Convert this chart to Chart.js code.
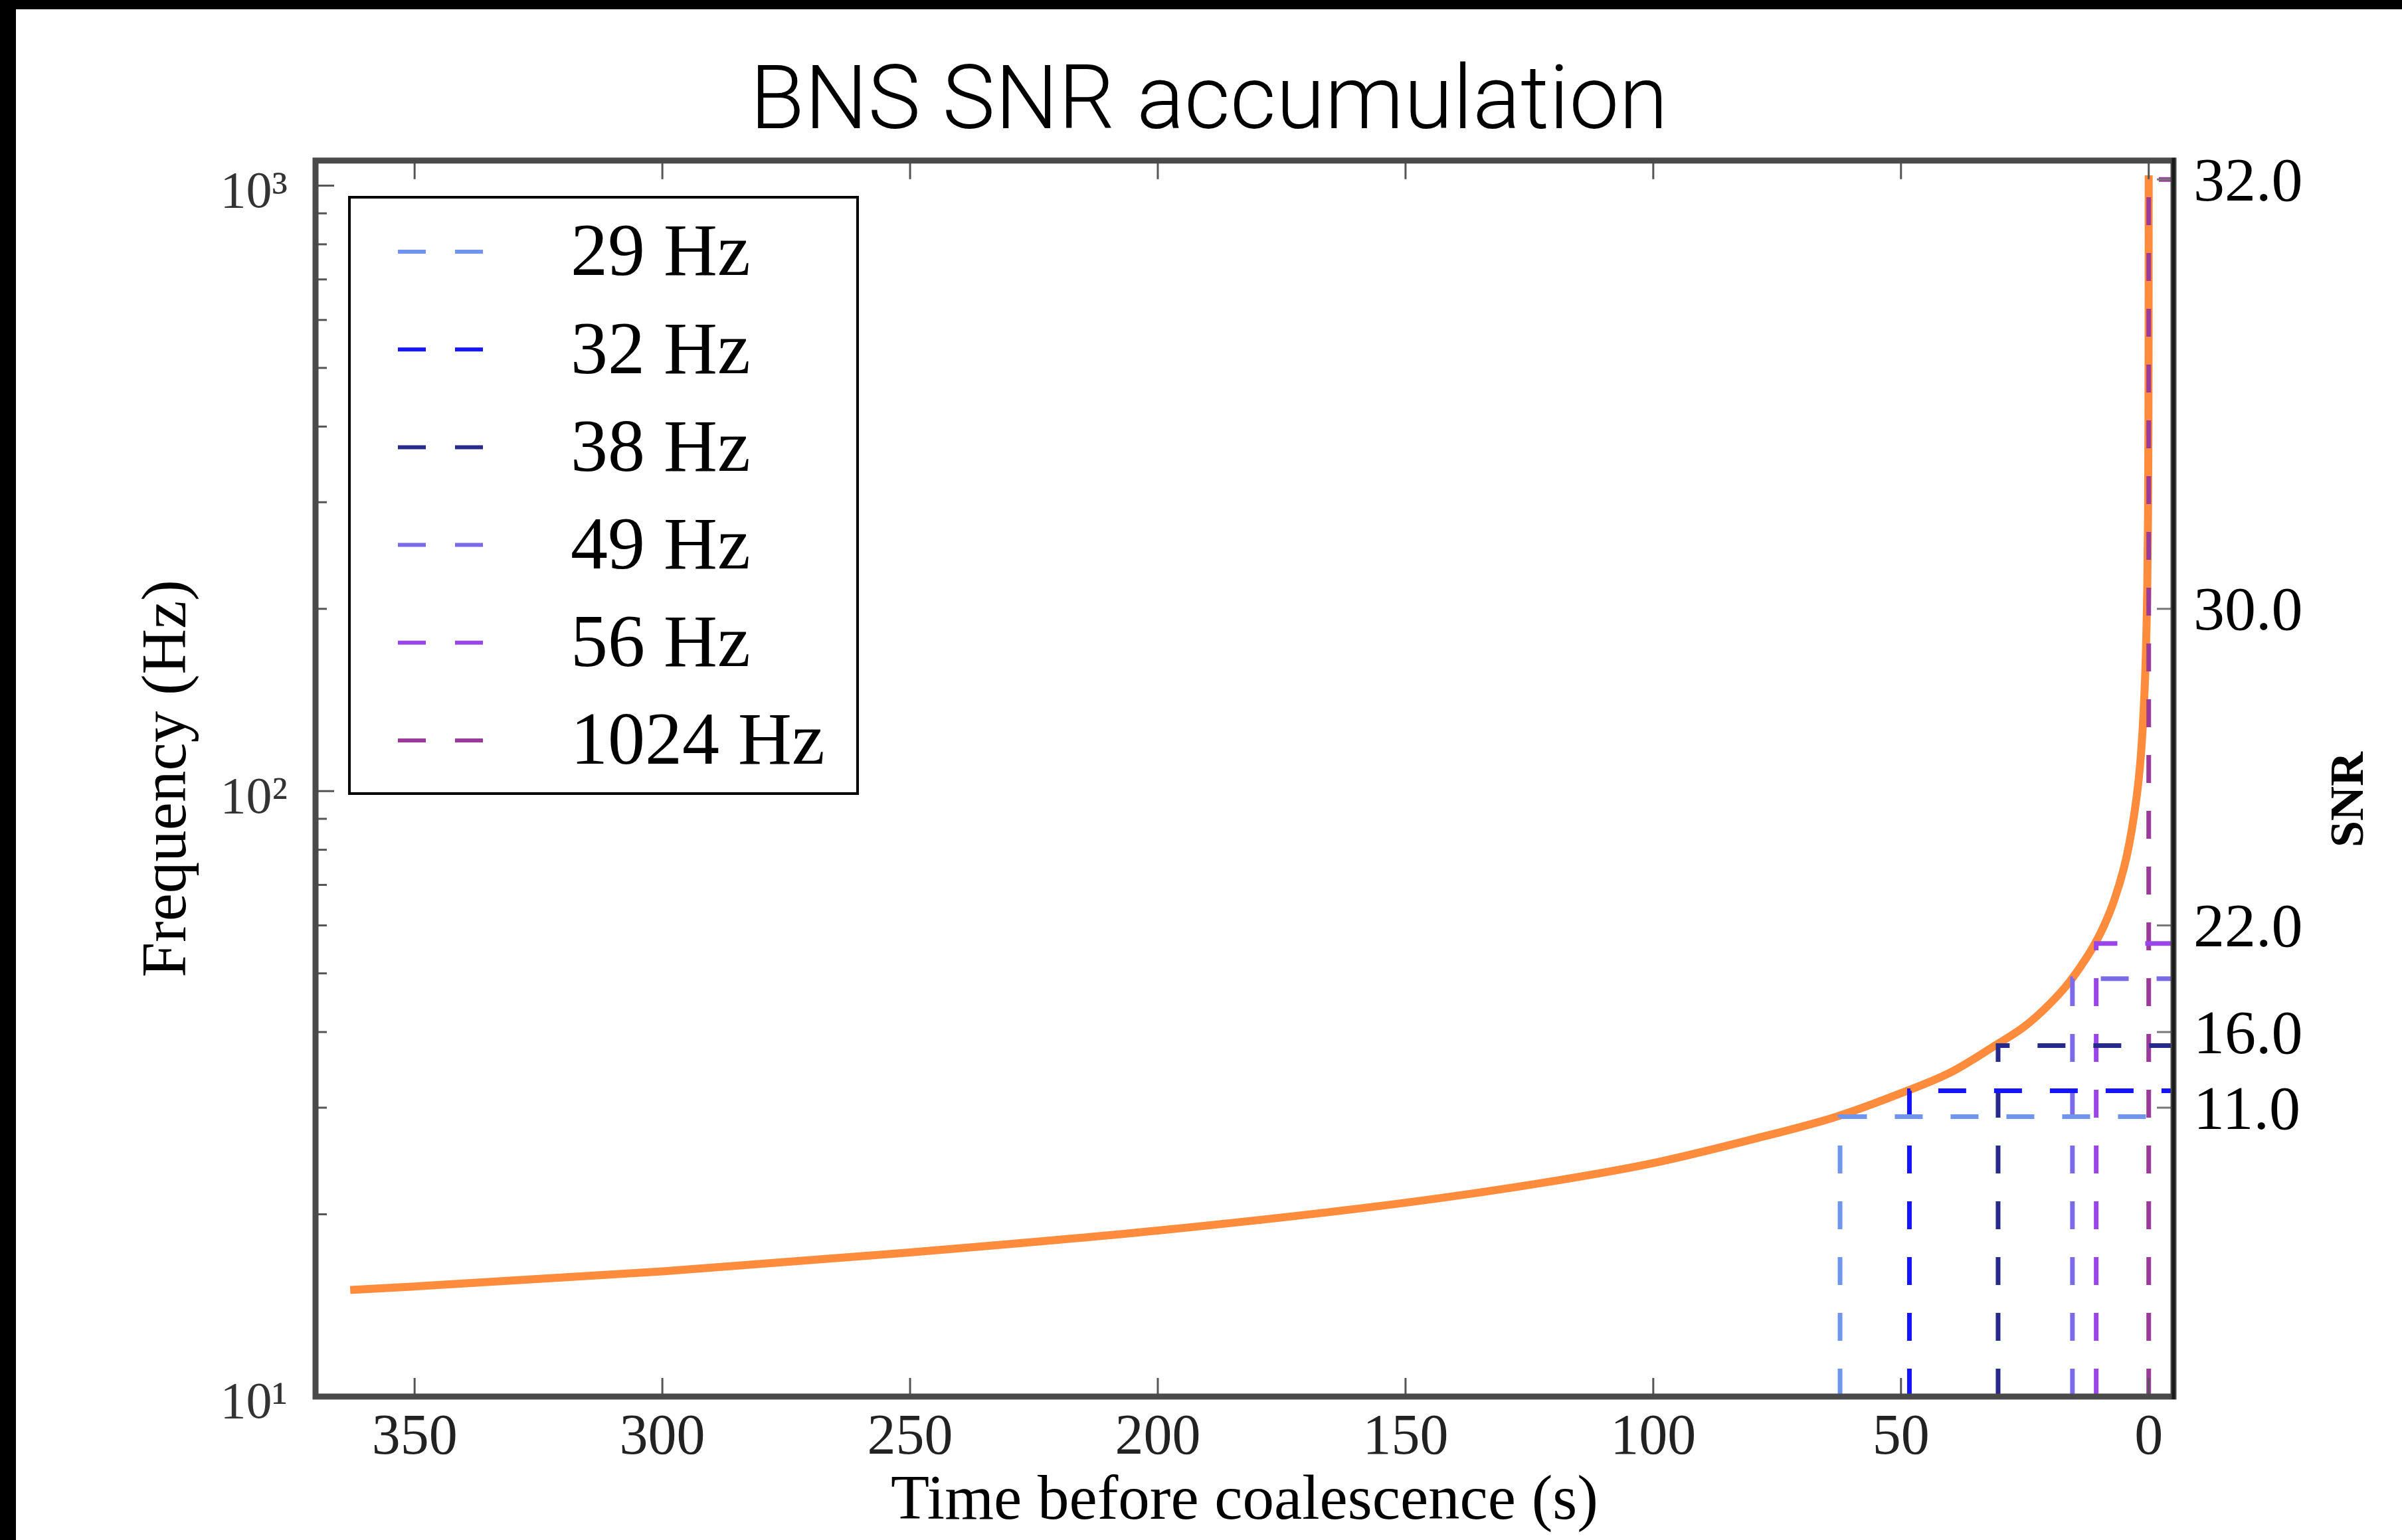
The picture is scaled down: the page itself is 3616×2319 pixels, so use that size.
<!DOCTYPE html>
<html>
<head>
<meta charset="utf-8">
<title>BNS SNR accumulation</title>
<script src="https://cdn.jsdelivr.net/npm/chart.js@4.4.1/dist/chart.umd.min.js"></script>
<style>
  html, body { margin: 0; padding: 0; background: #000; }
  body { width: 3616px; height: 2319px; position: relative; overflow: hidden; }
  #snrChart { position: absolute; left: 24px; top: 14px; background: #fff; }
</style>
</head>
<body>
<canvas id="snrChart" width="3592" height="2305"></canvas>
<script>
// Chirp track: time before merger (s) against GW frequency (Hz)
const chirpTime = [363, 350, 300, 250, 200, 150, 120, 100, 80, 63, 50, 40, 31, 25, 20, 16, 13, 11, 9, 7,
                   5, 4, 3, 2, 1.5, 1, 0.6, 0.3, 0.15, 0.06, 0.02, 0.008, 0.004];
const chirpFreq = [15.0, 15.2, 16.1, 17.3, 18.8, 20.9, 22.7, 24.3, 26.6, 29.0, 31.7, 34.3, 38.0, 40.9, 44.5, 48.4, 52.4, 55.7, 60.0, 65.9,
                   74.7, 81.3, 90.7, 105, 117, 137, 166, 215, 279, 391, 591, 834, 1040];

// Cut-off frequencies and the time the chirp reaches each of them
const cutFreqs = [29, 32, 38, 49, 56, 1024];
const cutTimes = [62.3, 48.3, 30.4, 15.4, 10.6, 0.0];
const cutColors = ['#6f96ec', '#1414ff', '#262a8c', '#7b6be8', '#9a45ea', '#9a3a9a'];

// SNR accumulated by each marked frequency (right-hand axis)
const snrTickFreqs = [30, 40, 60, 200, 1024];
const snrValues = [11.0, 16.0, 22.0, 30.0, 32.0];

const timeTicks = [350, 300, 250, 200, 150, 100, 50, 0];
const freqTicks = [10, 100, 1000];
const T_MIN = -5, T_MAX = 370;
const F_MIN = 10, F_MAX = 1100;

const SUP = { 1: '\u00b9', 2: '\u00b2', 3: '\u00b3' };

Chart.defaults.font.family = "'Liberation Serif', serif";
Chart.defaults.color = '#111';

const datasets = [{
  label: 'chirp',
  data: chirpTime.map((t, i) => ({ x: t, y: chirpFreq[i] })),
  borderColor: '#ff8b3d',
  borderWidth: 12,
  pointRadius: 0,
  cubicInterpolationMode: 'monotone',
  order: 10
}];
cutFreqs.forEach((f, i) => {
  datasets.push({
    label: f + ' Hz',
    data: [{ x: cutTimes[i], y: F_MIN }, { x: cutTimes[i], y: f }, { x: T_MIN, y: f }],
    borderColor: cutColors[i],
    borderWidth: 7,
    borderDash: [42, 42],
    pointRadius: 0,
    tension: 0,
    order: i
  });
});

// axes frame and inward tick marks, matplotlib style
const frame = {
  id: 'frame',
  afterDatasetsDraw(chart) {
    const { ctx, chartArea: a, scales } = chart;
    const seg = (x1, y1, x2, y2) => { ctx.beginPath(); ctx.moveTo(x1, y1); ctx.lineTo(x2, y2); ctx.stroke(); };
    ctx.save();
    ctx.setLineDash([]);
    ctx.strokeStyle = '#555';
    ctx.lineWidth = 3;
    timeTicks.forEach(t => {
      const x = scales.x.getPixelForValue(t);
      seg(x, a.bottom, x, a.bottom - 28);
      seg(x, a.top, x, a.top + 28);
    });
    for (let d = F_MIN; d < F_MAX; d *= 10) {
      for (let m = 1; m < 10; m++) {
        const v = d * m;
        if (v > F_MAX) break;
        const y = scales.y.getPixelForValue(v);
        seg(a.left, y, a.left + (m === 1 ? 28 : 17), y);
      }
    }
    ctx.strokeStyle = '#777';
    snrTickFreqs.forEach(f => {
      const y = scales.y2.getPixelForValue(f);
      seg(a.right, y, a.right - 25, y);
    });
    ctx.strokeStyle = '#4a4a4a';
    ctx.lineWidth = 9;
    ctx.strokeRect(a.left, a.top, a.right - a.left, a.bottom - a.top);
    ctx.strokeStyle = '#1a1a1a';
    ctx.lineWidth = 5;
    seg(a.right, a.top - 4, a.right, a.bottom + 4);

    // right-hand axis name, read bottom to top
    ctx.translate(3514, 1190);
    ctx.rotate(-Math.PI / 2);
    ctx.fillStyle = '#000';
    ctx.font = "bold 72px 'Liberation Serif', serif";
    ctx.textAlign = 'center';
    ctx.textBaseline = 'middle';
    ctx.fillText('SNR', 0, 0);
    ctx.restore();
  }
};

// boxed legend in the upper left of the axes
const boxLegend = {
  id: 'boxLegend',
  afterDraw(chart) {
    const { ctx } = chart;
    const items = chart.data.datasets.slice(1);
    ctx.save();
    ctx.fillStyle = '#fff';
    ctx.fillRect(502, 283, 765, 898);
    ctx.strokeStyle = '#000';
    ctx.lineWidth = 4;
    ctx.strokeRect(502, 283, 765, 898);
    ctx.font = "112px 'Liberation Serif', serif";
    ctx.textBaseline = 'middle';
    ctx.textAlign = 'left';
    items.forEach((ds, i) => {
      const y = 365 + i * 147.2;
      ctx.strokeStyle = ds.borderColor;
      ctx.lineWidth = 6;
      ctx.setLineDash([42, 44]);
      ctx.beginPath();
      ctx.moveTo(575, y);
      ctx.lineTo(703, y);
      ctx.stroke();
      ctx.fillStyle = '#000';
      ctx.fillText(ds.label, 835, y + 6);
    });
    ctx.restore();
  }
};

new Chart(document.getElementById('snrChart'), {
  type: 'line',
  data: { datasets },
  options: {
    responsive: false,
    animation: false,
    devicePixelRatio: 1,
    layout: { padding: 0 },
    plugins: {
      legend: { display: false },
      tooltip: { enabled: false },
      title: {
        display: true,
        text: 'BNS SNR accumulation',
        color: '#000',
        font: { family: 'Roboto', size: 134, weight: '300', lineHeight: 1.2 },
        padding: { top: 65, bottom: 2 }
      }
    },
    scales: {
      x: {
        type: 'linear',
        reverse: true,
        min: T_MIN,
        max: T_MAX,
        grid: { display: false, drawTicks: false },
        border: { display: false },
        afterBuildTicks: s => { s.ticks = timeTicks.map(v => ({ value: v })); },
        afterFit: s => { s.height = 216; },
        ticks: { font: { size: 86 }, color: '#222', padding: 12, maxRotation: 0, autoSkip: false },
        title: {
          display: true,
          text: 'Time before coalescence (s)',
          color: '#000',
          font: { size: 95, lineHeight: 1.2 },
          padding: { top: 0, bottom: 0 }
        }
      },
      y: {
        type: 'logarithmic',
        position: 'left',
        min: F_MIN,
        max: F_MAX,
        grid: { display: false, drawTicks: false },
        border: { display: false },
        afterBuildTicks: s => { s.ticks = freqTicks.map(v => ({ value: v })); },
        afterFit: s => { s.width = 451; },
        ticks: {
          font: { size: 78 },
          color: '#333',
          padding: 42,
          labelOffset: 12,
          autoSkip: false,
          callback: v => '10' + SUP[Math.round(Math.log10(v))]
        },
        title: {
          display: true,
          text: 'Frequency (Hz)',
          color: '#000',
          font: { size: 95, lineHeight: 1.2 },
          padding: { top: 173, bottom: 0 }
        }
      },
      y2: {
        type: 'logarithmic',
        position: 'right',
        min: F_MIN,
        max: F_MAX,
        grid: { display: false, drawTicks: false },
        border: { display: false },
        afterBuildTicks: s => { s.ticks = snrTickFreqs.map(v => ({ value: v })); },
        afterFit: s => { s.width = 344; },
        ticks: {
          font: { size: 94 },
          color: '#000',
          padding: 30,
          labelOffset: 7,
          autoSkip: false,
          callback: (v, i) => snrValues[i].toFixed(1)
        }
      }
    }
  },
  plugins: [frame, boxLegend]
});
</script>
</body>
</html>
